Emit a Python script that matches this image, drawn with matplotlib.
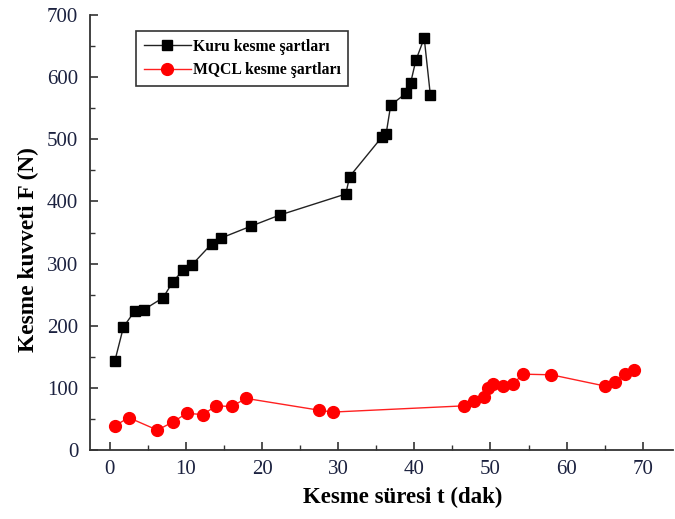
import matplotlib
matplotlib.use("Agg")
import matplotlib.pyplot as plt
from matplotlib.ticker import MultipleLocator

# Dry cutting data
kuru_t = [0.66, 1.8, 3.3, 4.5, 7.0, 8.3, 9.6, 10.8, 13.4, 14.6, 18.5, 22.3,
          31.0, 31.5, 35.7, 36.3, 36.9, 38.9, 39.5, 40.2, 41.3, 42.1]
kuru_F = [143, 198, 224, 226, 245, 271, 289, 298, 332, 341, 360, 378,
          412, 440, 503, 509, 555, 574, 590, 627, 663, 572]

# MQCL cutting data
mqcl_t = [0.66, 2.5, 6.25, 8.3, 10.1, 12.2, 14.0, 16.0, 17.9, 27.5, 29.3,
          46.5, 47.8, 49.1, 49.7, 50.3, 51.6, 52.9, 54.3, 58.0, 65.0, 66.3, 67.7, 68.9]
mqcl_F = [39, 52, 32, 45, 59, 57, 71, 70, 83, 64, 61,
          71, 79, 86, 99, 106, 103, 106, 122, 121, 103, 109, 123, 129]

x_ticks = [0, 10, 20, 30, 40, 50, 60, 70]
y_ticks = [0, 100, 200, 300, 400, 500, 600, 700]

label_kuru = "Kuru kesme şartları"
label_mqcl = "MQCL kesme şartları"
xlabel = "Kesme süresi t (dak)"
ylabel = "Kesme kuvveti F (N)"

plt.rcParams['font.family'] = ['Liberation Serif', 'DejaVu Serif']

fig = plt.figure(figsize=(6.75, 5.19), dpi=100)
ax = fig.add_axes([0.1333, 0.133, 0.864, 0.838])

ax.plot(kuru_t, kuru_F, color='#222222', lw=1.0, marker='s', ms=7.5,
        mfc='black', mec='black', label=label_kuru)
ax.plot(mqcl_t, mqcl_F, color='#ff2020', lw=1.0, marker='o', ms=8.5,
        mfc='#ff0000', mec='#ff0000', label=label_mqcl)

ax.set_xlim(-2.6, 74)
ax.set_ylim(0, 700)
ax.set_xticks(x_ticks)
ax.set_yticks(y_ticks)
ax.xaxis.set_minor_locator(MultipleLocator(5))
ax.yaxis.set_minor_locator(MultipleLocator(50))

for s in ['top', 'right']:
    ax.spines[s].set_visible(False)
for s in ['left', 'bottom']:
    ax.spines[s].set_linewidth(1.3)
    ax.spines[s].set_color('#333333')

ax.tick_params(which='major', direction='in', length=6, width=1.2,
               labelsize=15, labelcolor='#1c2240', color='#333333')
ax.tick_params(axis='y', which='major', pad=8.5)
ax.tick_params(axis='x', which='major', pad=7)
ax.tick_params(which='minor', direction='in', length=3.5, width=1.0, color='#333333')

ax.set_xlabel(xlabel, fontsize=16.5, fontweight='bold')
ax.set_ylabel(ylabel, fontsize=16.8, fontweight='bold')
ax.xaxis.set_label_coords(0.537, -0.085)
ax.yaxis.set_label_coords(-0.087, 0.46)

leg = ax.legend(loc='upper left', bbox_to_anchor=(0.079, 0.963), borderaxespad=0,
                fancybox=False, edgecolor='#333333', framealpha=1,
                prop={'family': 'Liberation Serif', 'weight': 'bold', 'size': 11.3},
                handlelength=3.0, handletextpad=0.1, borderpad=0.5, labelspacing=0.45)
leg.get_frame().set_linewidth(1.2)

fig.savefig("out.png", dpi=100)
